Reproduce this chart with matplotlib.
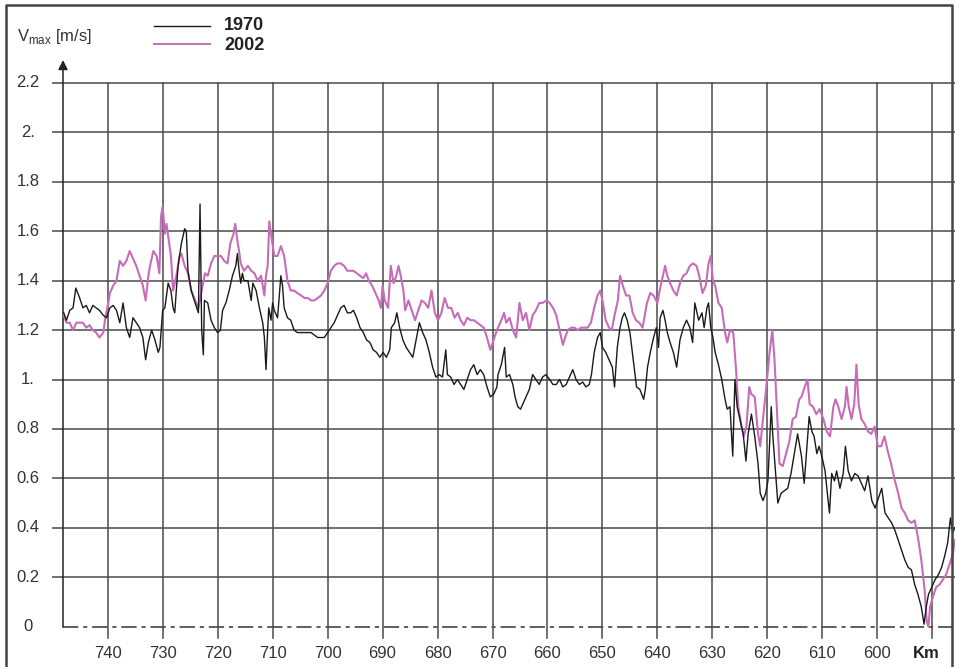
import matplotlib
matplotlib.use("Agg")
import matplotlib.pyplot as plt
from matplotlib.transforms import blended_transform_factory

plt.rcParams['font.family'] = ['Liberation Sans', 'DejaVu Sans']
plt.rcParams['mathtext.fontset'] = 'custom'
plt.rcParams['mathtext.rm'] = 'Liberation Sans'
plt.rcParams['lines.scale_dashes'] = False

# river kilometre and maximum velocity, 1970 survey
km_1970 = [748.0, 747.5, 746.9, 746.3, 745.8, 745.1, 744.5, 743.9, 743.3, 742.7,
           742.1, 741.5, 740.8, 740.2, 739.6, 739.0, 738.4, 737.8, 737.2, 736.6,
           736.0, 735.4, 734.8, 734.2, 733.6, 733.1, 732.6, 732.0, 731.4, 730.8,
           730.5, 730.0, 729.6, 729.0, 728.5, 728.1, 727.8, 727.2, 726.6, 726.0,
           725.7, 725.4, 724.8, 724.1, 723.5, 723.2, 722.9, 722.6, 722.4, 721.8,
           721.2, 720.6, 720.0, 719.5, 719.1, 718.5, 717.9, 717.3, 716.7, 716.4,
           716.1, 715.8, 715.5, 715.2, 714.5, 713.9, 713.6, 713.0, 712.4, 711.8,
           711.5, 711.2, 710.9, 710.7, 710.3, 710.0, 709.7, 709.1, 708.5, 708.2,
           707.9, 707.3, 706.7, 706.1, 705.5, 704.8, 704.2, 703.6, 703.0, 702.4,
           701.8, 701.2, 700.6, 700.0, 699.4, 698.8, 698.2, 697.6, 697.0, 696.4,
           695.8, 695.3, 694.7, 694.1, 693.5, 692.9, 692.3, 691.7, 691.1, 690.5,
           689.9, 689.3, 688.7, 688.4, 687.8, 687.4, 686.9, 686.3, 685.7, 685.1,
           684.5, 683.9, 683.3, 682.7, 682.1, 681.5, 680.9, 680.3, 679.7, 679.1,
           678.5, 678.2, 677.6, 677.0, 676.4, 675.8, 675.2, 674.6, 674.0, 673.4,
           672.8, 672.2, 671.6, 671.0, 670.4, 669.8, 669.2, 669.0, 668.4, 667.8,
           667.5, 666.9, 666.3, 665.9, 665.4, 664.9, 664.5, 663.9, 663.3, 662.7,
           662.1, 661.5, 660.9, 660.3, 659.6, 659.0, 658.4, 657.8, 657.2, 656.6,
           656.0, 655.4, 654.8, 654.2, 653.6, 653.0, 652.4, 652.0, 651.5, 650.9,
           650.4, 650.0, 649.4, 648.8, 648.2, 647.8, 647.3, 646.8, 646.4, 646.0,
           645.5, 645.0, 644.4, 643.8, 643.2, 642.5, 642.2, 641.8, 641.3, 640.7,
           640.2, 639.8, 639.5, 639.0, 638.6, 638.2, 637.7, 637.1, 636.5, 635.9,
           635.3, 634.7, 634.1, 633.6, 633.2, 632.5, 631.9, 631.5, 631.0, 630.7,
           630.3, 629.9, 629.5, 628.9, 628.3, 627.7, 627.3, 626.8, 626.3, 625.9,
           625.5, 625.0, 624.4, 623.9, 623.5, 622.9, 622.3, 621.7, 621.3, 620.8,
           620.3, 619.9, 619.3, 619.0, 618.5, 618.1, 617.5, 616.9, 616.3, 615.7,
           615.1, 614.5, 613.8, 613.3, 612.8, 612.4, 611.9, 611.5, 611.0, 610.6,
           610.1, 609.5, 609.0, 608.7, 608.3, 607.8, 607.4, 606.8, 606.2, 605.8,
           605.3, 604.7, 604.1, 603.5, 602.9, 602.3, 601.7, 601.0, 600.4, 599.8,
           599.2, 598.6, 598.0, 597.4, 596.8, 596.2, 595.6, 595.0, 594.4, 593.8,
           593.2, 592.6, 592.0, 591.5, 591.1, 590.7, 590.1, 589.5, 588.9, 588.3,
           587.7, 587.2, 586.7, 586.3, 585.9]
v_1970 = [1.27, 1.24, 1.28, 1.29, 1.37, 1.33, 1.29, 1.30, 1.27, 1.30,
          1.29, 1.28, 1.26, 1.25, 1.29, 1.30, 1.28, 1.23, 1.31, 1.21,
          1.17, 1.25, 1.23, 1.21, 1.17, 1.08, 1.15, 1.20, 1.16, 1.11,
          1.13, 1.28, 1.29, 1.39, 1.36, 1.29, 1.27, 1.46, 1.55, 1.61,
          1.60, 1.44, 1.36, 1.31, 1.27, 1.71, 1.20, 1.10, 1.32, 1.31,
          1.24, 1.21, 1.19, 1.20, 1.28, 1.31, 1.36, 1.42, 1.46, 1.51,
          1.44, 1.39, 1.43, 1.40, 1.40, 1.32, 1.39, 1.36, 1.29, 1.23,
          1.17, 1.04, 1.20, 1.29, 1.24, 1.31, 1.28, 1.25, 1.42, 1.38,
          1.29, 1.25, 1.24, 1.20, 1.19, 1.19, 1.19, 1.19, 1.19, 1.18,
          1.17, 1.17, 1.17, 1.19, 1.21, 1.23, 1.26, 1.29, 1.30, 1.27,
          1.27, 1.28, 1.25, 1.21, 1.19, 1.16, 1.15, 1.12, 1.11, 1.09,
          1.11, 1.09, 1.12, 1.21, 1.23, 1.27, 1.21, 1.16, 1.13, 1.11,
          1.09, 1.16, 1.23, 1.19, 1.16, 1.11, 1.05, 1.01, 1.02, 1.01,
          1.12, 1.02, 1.01, 0.98, 1.00, 0.98, 0.96, 1.00, 1.04, 1.06,
          1.02, 1.04, 1.02, 0.97, 0.93, 0.94, 0.97, 1.02, 1.06, 1.13,
          1.01, 1.02, 0.98, 0.93, 0.89, 0.88, 0.90, 0.93, 0.96, 1.02,
          1.00, 0.98, 1.01, 1.02, 1.00, 0.98, 0.98, 1.00, 0.97, 0.98,
          1.01, 1.04, 1.00, 0.98, 0.99, 0.97, 0.98, 1.02, 1.11, 1.17,
          1.19, 1.13, 1.11, 1.08, 1.05, 0.97, 1.13, 1.21, 1.25, 1.27,
          1.24, 1.19, 1.08, 0.97, 0.96, 0.92, 0.96, 1.05, 1.11, 1.17,
          1.21, 1.13, 1.25, 1.28, 1.24, 1.19, 1.15, 1.11, 1.05, 1.16,
          1.21, 1.24, 1.21, 1.15, 1.31, 1.24, 1.27, 1.21, 1.29, 1.31,
          1.21, 1.17, 1.11, 1.06, 1.00, 0.92, 0.88, 0.89, 0.69, 1.00,
          0.89, 0.84, 0.78, 0.67, 0.78, 0.86, 0.77, 0.66, 0.54, 0.51,
          0.54, 0.59, 0.89, 0.77, 0.62, 0.50, 0.54, 0.55, 0.56, 0.62,
          0.70, 0.78, 0.69, 0.58, 0.73, 0.85, 0.79, 0.77, 0.70, 0.73,
          0.69, 0.63, 0.52, 0.46, 0.62, 0.59, 0.63, 0.56, 0.62, 0.73,
          0.63, 0.59, 0.62, 0.61, 0.58, 0.55, 0.61, 0.51, 0.48, 0.52,
          0.56, 0.46, 0.44, 0.42, 0.39, 0.35, 0.31, 0.27, 0.24, 0.23,
          0.17, 0.13, 0.08, 0.01, 0.08, 0.13, 0.16, 0.19, 0.21, 0.24,
          0.29, 0.34, 0.44, 0.38, 0.40]

# river kilometre and maximum velocity, 2002 survey
km_2002 = [748.0, 747.5, 746.9, 746.3, 745.7, 745.1, 744.5, 743.9, 743.3, 742.7,
           742.1, 741.5, 740.8, 740.5, 739.9, 739.6, 739.0, 738.4, 737.8, 737.2,
           736.6, 736.0, 735.4, 734.8, 734.2, 733.6, 733.1, 732.6, 732.3, 731.7,
           731.1, 730.6, 730.3, 730.0, 729.6, 729.3, 729.0, 728.5, 728.1, 727.5,
           726.9, 726.6, 726.0, 725.4, 724.8, 724.1, 723.5, 722.9, 722.3, 721.8,
           721.2, 720.6, 720.0, 719.4, 718.8, 718.2, 717.7, 717.1, 716.8, 716.4,
           716.1, 715.8, 715.2, 714.5, 713.9, 713.3, 712.7, 712.1, 711.5, 711.2,
           710.9, 710.6, 710.3, 709.7, 709.1, 708.5, 707.9, 707.3, 706.7, 706.1,
           705.5, 704.8, 704.2, 703.6, 703.0, 702.4, 701.8, 701.2, 700.6, 700.0,
           699.4, 698.8, 698.2, 697.6, 697.0, 696.4, 695.8, 695.3, 694.7, 694.1,
           693.5, 693.0, 692.5, 691.9, 691.3, 690.7, 690.3, 690.0, 689.6, 689.0,
           688.5, 688.0, 687.5, 687.1, 686.7, 686.2, 685.9, 685.3, 684.7, 684.1,
           683.5, 682.9, 682.3, 681.7, 681.1, 680.5, 679.9, 679.3, 678.7, 678.1,
           677.5, 676.9, 676.3, 675.8, 675.2, 674.6, 674.0, 673.4, 672.8, 672.2,
           671.6, 671.0, 670.4, 669.8, 669.2, 668.4, 667.9, 667.5, 666.9, 666.3,
           665.7, 665.1, 664.5, 663.9, 663.3, 662.7, 662.1, 661.5, 660.9, 660.2,
           659.6, 659.0, 658.4, 657.8, 657.2, 656.8, 656.3, 655.7, 655.1, 654.5,
           653.9, 653.3, 652.7, 652.1, 651.5, 650.9, 650.4, 650.0, 649.4, 648.8,
           648.3, 647.8, 647.2, 646.8, 646.3, 645.7, 645.1, 644.5, 643.9, 643.3,
           642.7, 641.9, 641.3, 640.7, 640.0, 639.6, 639.2, 638.6, 638.2, 637.7,
           637.1, 636.5, 635.9, 635.3, 634.7, 634.1, 633.5, 632.9, 632.4, 631.8,
           631.2, 630.7, 630.3, 629.9, 629.5, 628.9, 628.3, 627.7, 627.3, 626.8,
           626.2, 625.7, 625.3, 624.7, 624.3, 623.8, 623.3, 622.9, 622.3, 621.7,
           621.3, 620.8, 620.2, 619.6, 619.1, 618.7, 618.3, 617.8, 617.2, 616.6,
           616.0, 615.4, 614.8, 614.2, 613.8, 613.2, 612.7, 612.3, 611.7, 611.1,
           610.5, 609.8, 609.2, 608.6, 608.0, 607.6, 607.1, 606.5, 605.9, 605.6,
           605.2, 604.7, 604.2, 603.8, 603.4, 602.9, 602.3, 601.7, 601.1, 600.5,
           599.9, 599.3, 598.7, 598.1, 597.5, 596.8, 596.2, 595.6, 595.0, 594.4,
           593.8, 593.2, 592.6, 592.0, 591.4, 591.0, 590.7, 590.4, 589.9, 589.3,
           588.7, 588.1, 587.5, 586.9, 586.3, 585.9]
v_2002 = [1.26, 1.23, 1.23, 1.20, 1.23, 1.23, 1.23, 1.21, 1.22, 1.20,
          1.19, 1.17, 1.19, 1.24, 1.31, 1.35, 1.38, 1.40, 1.48, 1.46,
          1.48, 1.52, 1.49, 1.46, 1.42, 1.38, 1.32, 1.42, 1.46, 1.52,
          1.50, 1.43, 1.66, 1.70, 1.59, 1.63, 1.58, 1.50, 1.36, 1.42,
          1.50, 1.51, 1.46, 1.43, 1.36, 1.32, 1.29, 1.36, 1.43, 1.42,
          1.47, 1.50, 1.50, 1.50, 1.48, 1.47, 1.55, 1.59, 1.63, 1.56,
          1.52, 1.47, 1.44, 1.46, 1.44, 1.43, 1.40, 1.42, 1.34, 1.42,
          1.46, 1.64, 1.59, 1.50, 1.50, 1.54, 1.50, 1.40, 1.36, 1.36,
          1.35, 1.34, 1.33, 1.33, 1.32, 1.32, 1.33, 1.34, 1.36, 1.39,
          1.44, 1.46, 1.47, 1.47, 1.46, 1.44, 1.44, 1.44, 1.43, 1.42,
          1.41, 1.43, 1.40, 1.38, 1.35, 1.32, 1.29, 1.38, 1.32, 1.29,
          1.46, 1.39, 1.42, 1.46, 1.42, 1.36, 1.28, 1.32, 1.28, 1.24,
          1.28, 1.32, 1.31, 1.29, 1.36, 1.27, 1.24, 1.27, 1.33, 1.29,
          1.29, 1.25, 1.27, 1.24, 1.22, 1.25, 1.24, 1.24, 1.23, 1.22,
          1.21, 1.17, 1.12, 1.16, 1.20, 1.24, 1.27, 1.23, 1.25, 1.20,
          1.17, 1.31, 1.24, 1.27, 1.20, 1.26, 1.28, 1.31, 1.31, 1.32,
          1.31, 1.29, 1.26, 1.20, 1.14, 1.17, 1.20, 1.21, 1.21, 1.20,
          1.21, 1.21, 1.21, 1.23, 1.29, 1.34, 1.36, 1.32, 1.24, 1.21,
          1.20, 1.26, 1.32, 1.42, 1.38, 1.34, 1.34, 1.27, 1.24, 1.23,
          1.21, 1.31, 1.35, 1.34, 1.31, 1.36, 1.40, 1.46, 1.42, 1.39,
          1.36, 1.34, 1.39, 1.42, 1.43, 1.46, 1.47, 1.46, 1.42, 1.35,
          1.38, 1.47, 1.50, 1.40, 1.38, 1.31, 1.29, 1.19, 1.15, 1.20,
          1.19, 1.04, 0.89, 0.81, 0.77, 0.81, 0.97, 0.94, 0.93, 0.78,
          0.73, 0.84, 0.97, 1.11, 1.20, 1.08, 0.89, 0.66, 0.65, 0.70,
          0.75, 0.84, 0.85, 0.92, 0.93, 0.97, 1.00, 0.90, 0.89, 0.86,
          0.88, 0.84, 0.79, 0.77, 0.89, 0.92, 0.89, 0.84, 0.89, 0.97,
          0.89, 0.84, 0.90, 1.06, 0.90, 0.84, 0.82, 0.79, 0.78, 0.81,
          0.73, 0.73, 0.77, 0.71, 0.66, 0.59, 0.54, 0.48, 0.46, 0.43,
          0.42, 0.43, 0.36, 0.27, 0.15, 0.02, 0.00, 0.08, 0.12, 0.16,
          0.17, 0.19, 0.21, 0.25, 0.29, 0.35]

x_ticks = [740, 730, 720, 710, 700, 690, 680, 670, 660, 650, 640, 630, 620, 610, 600]
y_ticks = [0, 0.2, 0.4, 0.6, 0.8, 1.0, 1.2, 1.4, 1.6, 1.8, 2.0, 2.2]
y_labels = ['0', '0.2', '0.4', '0.6', '0.8', '1.', '1.2', '1.4', '1.6', '1.8', '2.', '2.2']

grid_col = '#4a4a4a'
text_col = '#333333'
pink = '#c76cb9'

fig = plt.figure(figsize=(9.56, 6.67), dpi=100)
ax = fig.add_axes([52 / 956, 27 / 667, 903 / 956, 580 / 667])
ax.set_xlim(750.13, 585.87)
ax.set_ylim(-0.054, 2.293)
ax.axis('off')

axis_km = 748.13

# grid
for y in y_ticks[1:]:
    ax.plot([750.13, 585.87], [y, y], color=grid_col, lw=1.1, zorder=1)
ax.plot([axis_km, 585.87], [0, 0], color='#333333', lw=1.1,
        dashes=(11, 3.5, 3, 3.5), zorder=1)
for k in x_ticks + [590]:
    ax.plot([k, k], [-0.045, 2.2], color=grid_col, lw=1.1, zorder=1)

# y axis with arrow
ax.annotate('', xy=(axis_km, 2.293), xytext=(axis_km, -0.002),
            arrowprops=dict(arrowstyle='-|>', color='#222222', lw=1.1,
                            mutation_scale=14, shrinkA=0, shrinkB=0),
            annotation_clip=False, zorder=3)

# data
ax.plot(km_1970, v_1970, color='#1a1a1a', lw=1.0, zorder=4)
ax.plot(km_2002, v_2002, color=pink, lw=1.5, zorder=3)

# tick labels
ytr = blended_transform_factory(fig.transFigure, ax.transData)
for y, lab in zip(y_ticks, y_labels):
    ax.text(28 / 956, y, lab, transform=ytr, ha='center', va='center',
            fontsize=12, color=text_col, clip_on=False)
xtr = blended_transform_factory(ax.transData, fig.transFigure)
for k in x_ticks:
    ax.text(k, 14 / 667, str(k), transform=xtr, ha='center', va='center',
            fontsize=12, color=text_col, clip_on=False)
ax.text(591.1, 14 / 667, 'Km', transform=xtr, ha='center', va='center',
        fontsize=12, fontweight='bold', color='#222222', clip_on=False)

# axis title and legend
fig.text(17 / 956, 1 - 37 / 667, r'V$_{\mathrm{max}}$ [m/s]', fontsize=12,
         color=text_col, ha='left', va='center')
fig.add_artist(plt.Line2D([154 / 956, 210 / 956], [1 - 26 / 667] * 2,
                          color='#1a1a1a', lw=1.0))
fig.add_artist(plt.Line2D([154 / 956, 210 / 956], [1 - 44 / 667] * 2,
                          color=pink, lw=1.4))
fig.text(224 / 956, 1 - 26 / 667, '1970', fontsize=13, fontweight='bold',
         color='#222222', ha='left', va='center')
fig.text(224 / 956, 1 - 45 / 667, '2002', fontsize=13, fontweight='bold',
         color='#222222', ha='left', va='center')

# outer frame: left, top and right edges only
frame_x = [6 / 956, 6 / 956, 952 / 956, 952 / 956]
frame_y = [0, 1 - 5 / 667, 1 - 5 / 667, 0]
fig.add_artist(plt.Line2D(frame_x, frame_y, color='#444444', lw=1.8))

fig.savefig('out.png', dpi=100)
